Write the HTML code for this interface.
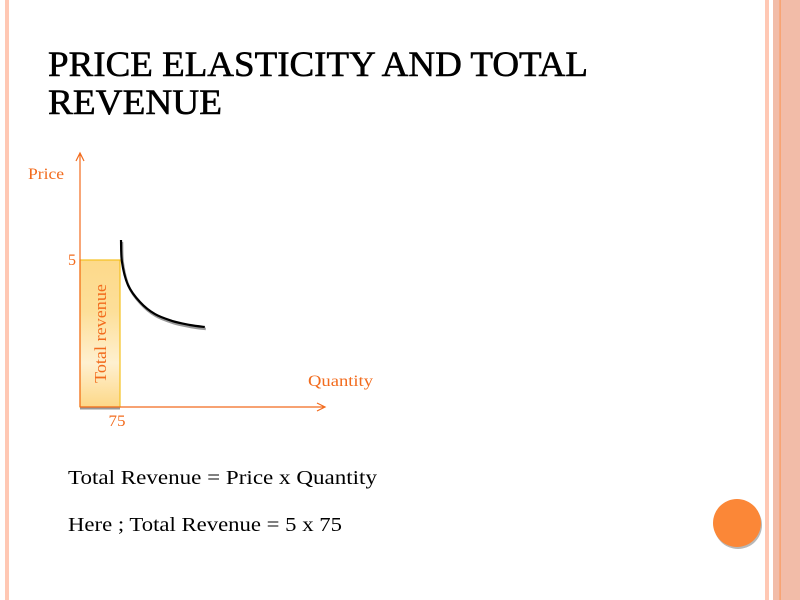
<!DOCTYPE html>
<html><head><meta charset="utf-8"><style>
html,body{margin:0;padding:0;background:#fff;width:800px;height:600px;overflow:hidden}
svg{display:block}
</style></head><body>
<svg id="s" width="800" height="600" viewBox="0 0 800 600" xmlns="http://www.w3.org/2000/svg">
<defs>
<linearGradient id="g" x1="0" y1="0" x2="0" y2="1">
<stop offset="0" stop-color="#fdd98a"/><stop offset="0.35" stop-color="#fddf99"/><stop offset="0.7" stop-color="#fef0d0"/><stop offset="1" stop-color="#fdd888"/>
</linearGradient>
</defs>
<rect x="5" y="0" width="4" height="600" fill="#ffc8b4"/>
<rect x="765" y="0" width="4" height="600" fill="#ffc8b4"/>
<rect x="773" y="0" width="27" height="600" fill="#f2bca8"/>
<rect x="779.5" y="0" width="1.2" height="600" fill="#fb9a5e"/>
<g font-family="'Liberation Serif',serif" fill="#000" stroke="#000" stroke-width="0.6" font-size="36">
<text x="48" y="76" textLength="540" lengthAdjust="spacingAndGlyphs">PRICE ELASTICITY AND TOTAL</text>
<text x="48" y="114" textLength="174" lengthAdjust="spacingAndGlyphs">REVENUE</text>
</g>
<g id="chart"></g>
<g font-family="'Liberation Serif',serif" font-size="20" fill="#000">
<text x="68" y="484" textLength="309" lengthAdjust="spacingAndGlyphs">Total Revenue = Price x Quantity</text>
<text x="68" y="531" textLength="274" lengthAdjust="spacingAndGlyphs">Here ; Total Revenue = 5 x 75</text>
</g>
<circle cx="738" cy="525" r="24" fill="#888" opacity="0.6"/>
<circle cx="737" cy="523" r="24" fill="#fb8737"/>
</svg>
<script>
const priceValue = [5];
const quantityValue = [75];
const curveQ = [76.9, 78.7, 90, 112.5, 140.6, 172.5, 206, 234];
const curveP = [5.68, 4.93, 4.15, 3.57, 3.16, 2.93, 2.79, 2.72];
const ox = 80, oy = 407;
function xs(q){ return ox + q * (40/75); }
function ys(p){ return oy - p * (147/5); }
const NS = "http://www.w3.org/2000/svg";
const ch = document.getElementById('chart');
function mk(tag, attrs){ const e=document.createElementNS(NS,tag); for(const k in attrs) e.setAttribute(k,attrs[k]); ch.appendChild(e); return e; }
const orange = "#f26b1d";
const r = mk('rect',{x:ox,y:ys(priceValue[0]),width:xs(quantityValue[0])-ox,height:oy-ys(priceValue[0]),fill:"url(#g)",stroke:"#f5c020","stroke-width":1.2});


const sh = mk('line',{x1:ox,y1:oy+1.5,x2:xs(quantityValue[0]),y2:oy+1.5,stroke:"#999","stroke-width":2});


const rl = mk('text',{x:0,y:0,transform:`translate(${ox+26},${(ys(priceValue[0])+oy)/2}) rotate(-90)`,"text-anchor":"middle","font-family":"'Liberation Serif',serif","font-size":17,fill:orange,textLength:99,lengthAdjust:"spacingAndGlyphs"});
rl.textContent = "Total revenue";


const ya = mk('path',{d:`M${ox},${oy} L${ox},153 M${ox-4},161 L${ox},153 L${ox+4},161`,stroke:orange,fill:"none","stroke-width":1.2});


const xa = mk('path',{d:`M${ox},${oy} L325,${oy} M317,${oy-4} L325,${oy} L317,${oy+4}`,stroke:orange,fill:"none","stroke-width":1.2});


function lbl(t,x,y,anchor,name,len){ const e=mk('text',{x:x,y:y,"text-anchor":anchor,"font-family":"'Liberation Serif',serif","font-size":16,fill:orange}); if(len){e.setAttribute('textLength',len);e.setAttribute('lengthAdjust','spacingAndGlyphs');} e.textContent=t;   return e; }
lbl("Price",28,179,"start","y-axis-title",36);
lbl("Quantity",308,386,"start","x-axis-title",65);
lbl(String(priceValue[0]),ox-4,ys(priceValue[0])+5,"end","y-tick-5");
lbl(String(quantityValue[0]),xs(quantityValue[0])-3,426,"middle","x-tick-75",17);
const pts = curveQ.map((q,i)=>[xs(q), ys(curveP[i])]);
let d = "M" + pts[0][0].toFixed(1) + "," + pts[0][1].toFixed(1);
for(let i=0;i<pts.length-1;i++){
  const p0=pts[Math.max(0,i-1)], p1=pts[i], p2=pts[i+1], p3=pts[Math.min(pts.length-1,i+2)];
  const c1=[p1[0]+(p2[0]-p0[0])/6, p1[1]+(p2[1]-p0[1])/6];
  const c2=[p2[0]-(p3[0]-p1[0])/6, p2[1]-(p3[1]-p1[1])/6];
  d += ` C${c1[0].toFixed(1)},${c1[1].toFixed(1)} ${c2[0].toFixed(1)},${c2[1].toFixed(1)} ${p2[0].toFixed(1)},${p2[1].toFixed(1)}`;
}
const cs = mk('path',{d:d,transform:"translate(1,2)",stroke:"#999",fill:"none","stroke-width":2.5});


const c = mk('path',{d:d,stroke:"#000",fill:"none","stroke-width":2.2,"stroke-linejoin":"round"});


</script>
</body></html>
